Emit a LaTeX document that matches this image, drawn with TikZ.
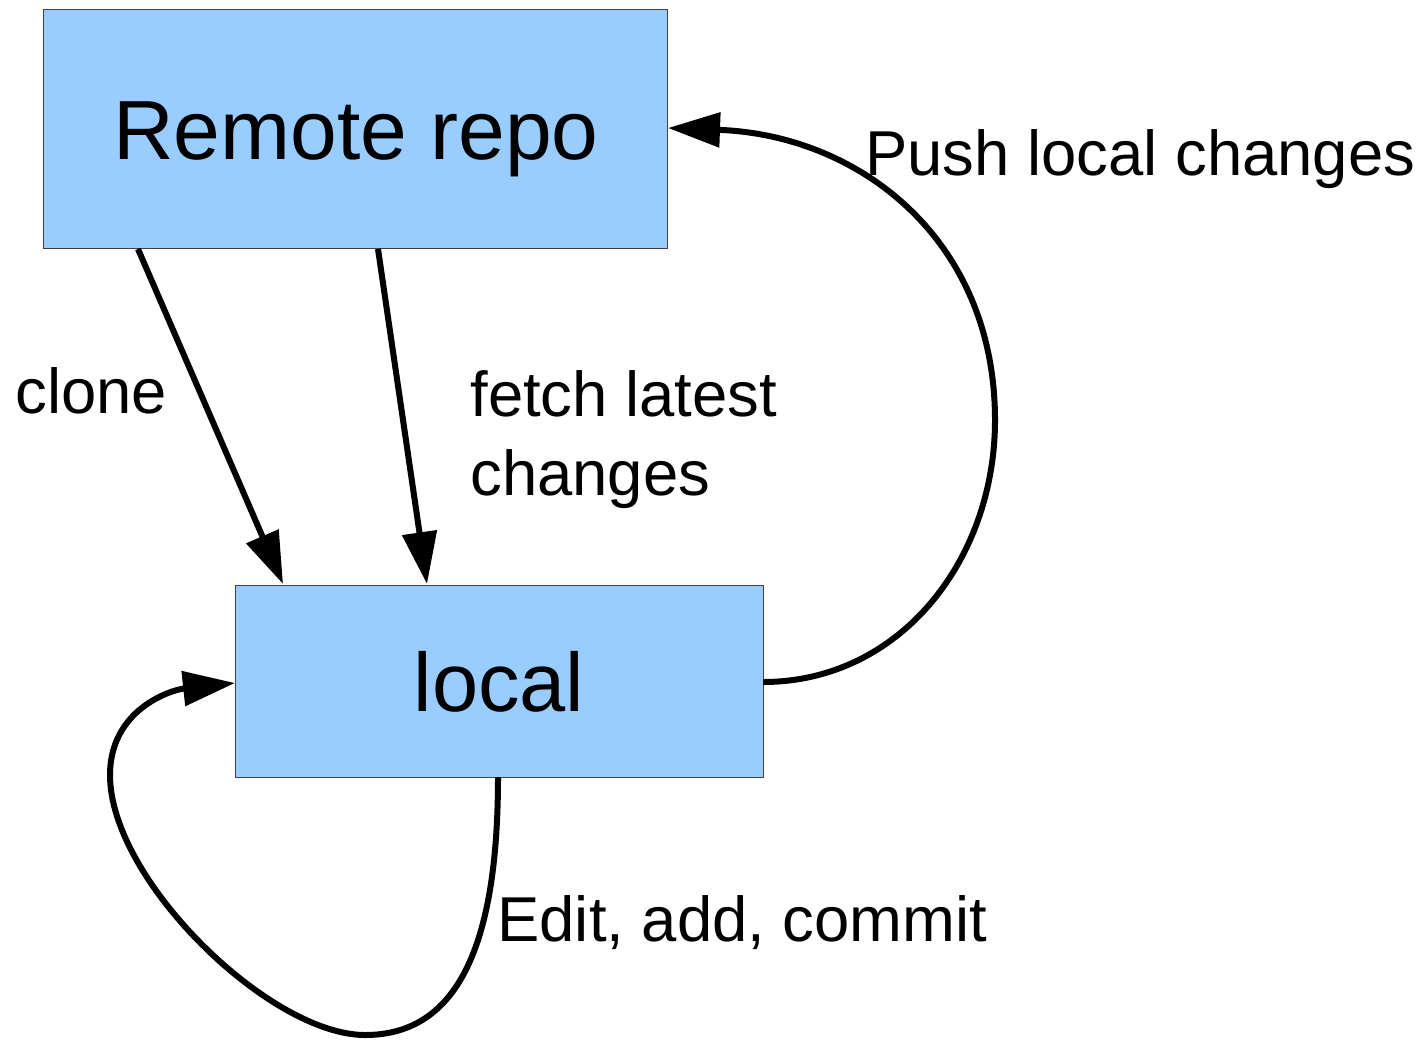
\documentclass[tikz,border=0pt]{standalone}
\usepackage{fontspec}
\setmainfont{Liberation Sans}
\usetikzlibrary{arrows.meta}
\definecolor{boxblue}{HTML}{99CCFF}
\definecolor{boxedge}{HTML}{404040}
\begin{document}
\begin{tikzpicture}[x=0.5pt,y=-0.5pt,
  box/.style={draw=boxedge,line width=0.6pt,fill=boxblue,inner sep=0pt,anchor=north west},
  conn/.style={line width=3pt,-{Triangle[length=26pt,width=17pt]}},
  lbl/.style={font=\fontsize{31.7pt}{40pt}\selectfont,anchor=base west,inner sep=0pt,align=left}]
\useasboundingbox (0,0) rectangle (1422,1039);
\node[box,minimum width=312pt,minimum height=119.5pt] (remote) at (43,9) {};
\node[font=\fontsize{42pt}{50pt}\selectfont,anchor=base,inner sep=0pt] (remotet) at (356,159) {Remote repo};
\node[box,minimum width=264pt,minimum height=96pt] (local) at (235,585) {};
\node[font=\fontsize{41.5pt}{50pt}\selectfont,anchor=base,inner sep=0pt] (localt) at (499,711) {local};
\coordinate (r1) at (138,249);
\coordinate (l1) at (283,584);
\coordinate (r2) at (378,249);
\coordinate (l2) at (427,584);
\coordinate (le) at (763,682);
\coordinate (re) at (668,128);
\coordinate (pr) at (995,420);
\coordinate (lb) at (498,777);
\coordinate (lbot) at (365,1035);
\coordinate (lleft) at (110,775);
\coordinate (lw) at (235,683);
\draw[conn] (r1) -- (l1);
\draw[conn] (r2) -- (l2);
\draw[conn] (le) .. controls (900,682) and (995,560) .. (pr)
  .. controls (995,240) and (860,135) .. (re);
\draw[conn] (lb) .. controls (498,960) and (450,1035) .. (lbot)
  .. controls (270,1035) and (110,880) .. (lleft)
  .. controls (110,710) and (170,690) .. (lw);
\node[lbl] (clonel) at (15,413) {clone};
\node[lbl] (fetchl) at (470,416) {fetch latest};
\node[lbl] (fetch2) at (470,495) {changes};
\node[lbl] (pushl) at (865,175) {Push local changes};
\node[lbl] (editl) at (497,941) {Edit, add, commit};
\end{tikzpicture}
\end{document}
